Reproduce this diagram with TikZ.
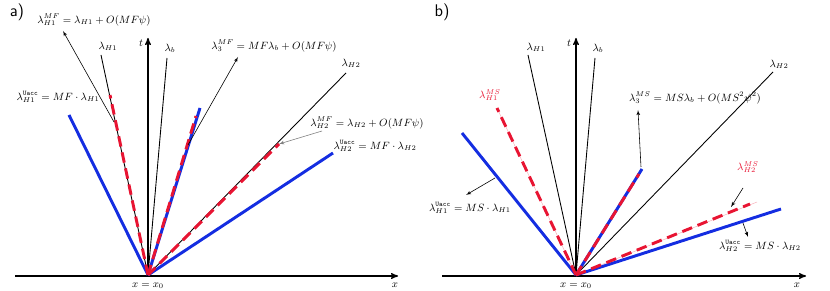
\documentclass[tikz,border=0pt]{standalone}
\usepackage{amssymb}
\usepackage{amsmath}
\usepackage{tikz}
\usetikzlibrary{arrows}
\definecolor{lineblue}{RGB}{20,45,225}
\definecolor{linered}{RGB}{232,20,50}
\tikzstyle{axis} = [draw, line width=1.1pt, -stealth']
\tikzstyle{char} = [draw, line width=0.75pt]
\tikzstyle{uacc} = [draw, lineblue, line width=2.5pt]
\tikzstyle{approx} = [draw, linered, line width=2.5pt, dash pattern=on 9pt off 5pt]
\tikzstyle{faint} = [draw, linered!35, line width=0.4pt]
\tikzstyle{note} = [draw, line width=0.5pt, -latex']
\tikzstyle{lab} = [inner sep=1pt, font=\small]
\newcommand{\Ua}{\mathtt{Uacc}}

\begin{document}
\begin{tikzpicture}[x=0.03cm, y=-0.03cm]
    \useasboundingbox (0,0) rectangle (830,291);
    % ---- a) ----
    \node [font=\sffamily\Large] (tagA) at (17,12) {a)};
    \coordinate (oA) at (148,275);
    \coordinate (xlA) at (15,276);
    \coordinate (xrA) at (398,276);
    \coordinate (tA) at (148,38);
    \coordinate (aH1) at (101,55);
    \coordinate (aB) at (167,58);
    \coordinate (aH2) at (346,73);
    \coordinate (aU1) at (69,115);
    \coordinate (aU3) at (200,108);
    \coordinate (aU2) at (333,153);
    \coordinate (aM1) at (110,95);
    \coordinate (aM3) at (196,116);
    \coordinate (aM2) at (279,144);
    % Place nodes
    \node [lab] (labtA) at (141,43) {$t$};
    \node [lab] (labH1A) at (108,46) {$\lambda_{H1}$};
    \node [lab] (labBA) at (170,48) {$\lambda_b$};
    \node [lab] (labH2A) at (351,63) {$\lambda_{H2}$};
    \node [lab] (labM1A) at (94,20) {$\lambda^{MF}_{H1}=\lambda_{H1}+O(MF\psi)$};
    \node [lab] (labM3A) at (274,46) {$\lambda^{MF}_{3}=MF\lambda_b+O(MF\psi)$};
    \node [lab] (labM2A) at (367,123) {$\lambda^{MF}_{H2}=\lambda_{H2}+O(MF\psi)$};
    \node [lab] (labU1A) at (58,97) {$\lambda^{\Ua}_{H1}=MF\cdot\lambda_{H1}$};
    \node [lab] (labU2A) at (375,146) {$\lambda^{\Ua}_{H2}=MF\cdot\lambda_{H2}$};
    \node [lab] (labx0A) at (148,286) {$x=x_0$};
    \node [lab] (labxA) at (395,285) {$x$};
    % Draw edges
    \path [axis] (xlA) -- (xrA);
    \path [axis] (oA) -- (tA);
    \path [char] (oA) -- (aH1);
    \path [char] (oA) -- (aB);
    \path [char] (oA) -- (aH2);
    \path [uacc] (oA) -- (aU1);
    \path [uacc] (oA) -- (aU3);
    \path [uacc] (oA) -- (aU2);
    \path [approx] (oA) -- (aM1);
    \path [approx] (oA) -- (aM3);
    \path [approx] (oA) -- (aM2);
    \coordinate (pM1A) at (114,122);
    \coordinate (qM1A) at (63,31);
    \coordinate (pM3A) at (188,145);
    \coordinate (qM3A) at (238,57);
    \coordinate (pM2A) at (322,131);
    \path [note] (pM1A) -- (qM1A);
    \path [note] (pM3A) -- (qM3A);
    \path [note, gray] (pM2A) -- (aM2);
    % ---- b) ----
    \node [font=\sffamily\Large] (tagB) at (442,12) {b)};
    \coordinate (oB) at (576,275);
    \coordinate (xlB) at (442,276);
    \coordinate (xrB) at (806,276);
    \coordinate (tB) at (576,38);
    \coordinate (bH1) at (528,55);
    \coordinate (bB) at (595,58);
    \coordinate (bH2) at (773,72);
    \coordinate (bU1) at (462,133);
    \coordinate (bU3) at (642,169);
    \coordinate (bU2) at (781,209);
    \coordinate (bM1) at (497,108);
    \coordinate (bM3) at (639,174);
    \coordinate (bM2) at (757,202);
    \coordinate (bM2e) at (750,204);
    % Place nodes
    \node [lab] (labtB) at (569,43) {$t$};
    \node [lab] (labH1B) at (536,47) {$\lambda_{H1}$};
    \node [lab] (labBB) at (598,48) {$\lambda_b$};
    \node [lab] (labH2B) at (779,64) {$\lambda_{H2}$};
    \node [lab, text=linered] (labM1B) at (490,95) {$\lambda^{MS}_{H1}$};
    \node [lab, text=linered] (labM2B) at (748,167) {$\lambda^{MS}_{H2}$};
    \node [lab] (labM3B) at (695,98) {$\lambda^{MS}_{3}=MS\lambda_b+O(MS^2\psi^2)$};
    \node [lab] (labU1B) at (470,208) {$\lambda^{\Ua}_{H1}=MS\cdot\lambda_{H1}$};
    \node [lab] (labU2B) at (760,246) {$\lambda^{\Ua}_{H2}=MS\cdot\lambda_{H2}$};
    \node [lab] (labx0B) at (576,286) {$x=x_0$};
    \node [lab] (labxB) at (797,285) {$x$};
    % Draw edges
    \path [axis] (xlB) -- (xrB);
    \path [axis] (oB) -- (tB);
    \path [char] (oB) -- (bH1);
    \path [char] (oB) -- (bB);
    \path [char] (oB) -- (bH2);
    \path [faint] (oB) -- (bM1);
    \path [faint] (oB) -- (bM2);
    \path [uacc] (oB) -- (bU1);
    \path [uacc] (oB) -- (bU3);
    \path [uacc] (oB) -- (bU2);
    \path [approx] (oB) -- (bM1);
    \path [approx] (oB) -- (bM3);
    \path [approx] (oB) -- (bM2e);
    \coordinate (pU1B) at (495,178);
    \coordinate (qU1B) at (466,195);
    \coordinate (pM3B) at (641,167);
    \coordinate (qM3B) at (638,110);
    \coordinate (pM2B) at (743,188);
    \coordinate (qM2B) at (731,207);
    \coordinate (pU2B) at (743,223);
    \coordinate (qU2B) at (748,237);
    \path [note] (pU1B) -- (qU1B);
    \path [note] (pM3B) -- (qM3B);
    \path [note] (pM2B) -- (qM2B);
    \path [note] (pU2B) -- (qU2B);
\end{tikzpicture}
\end{document}
